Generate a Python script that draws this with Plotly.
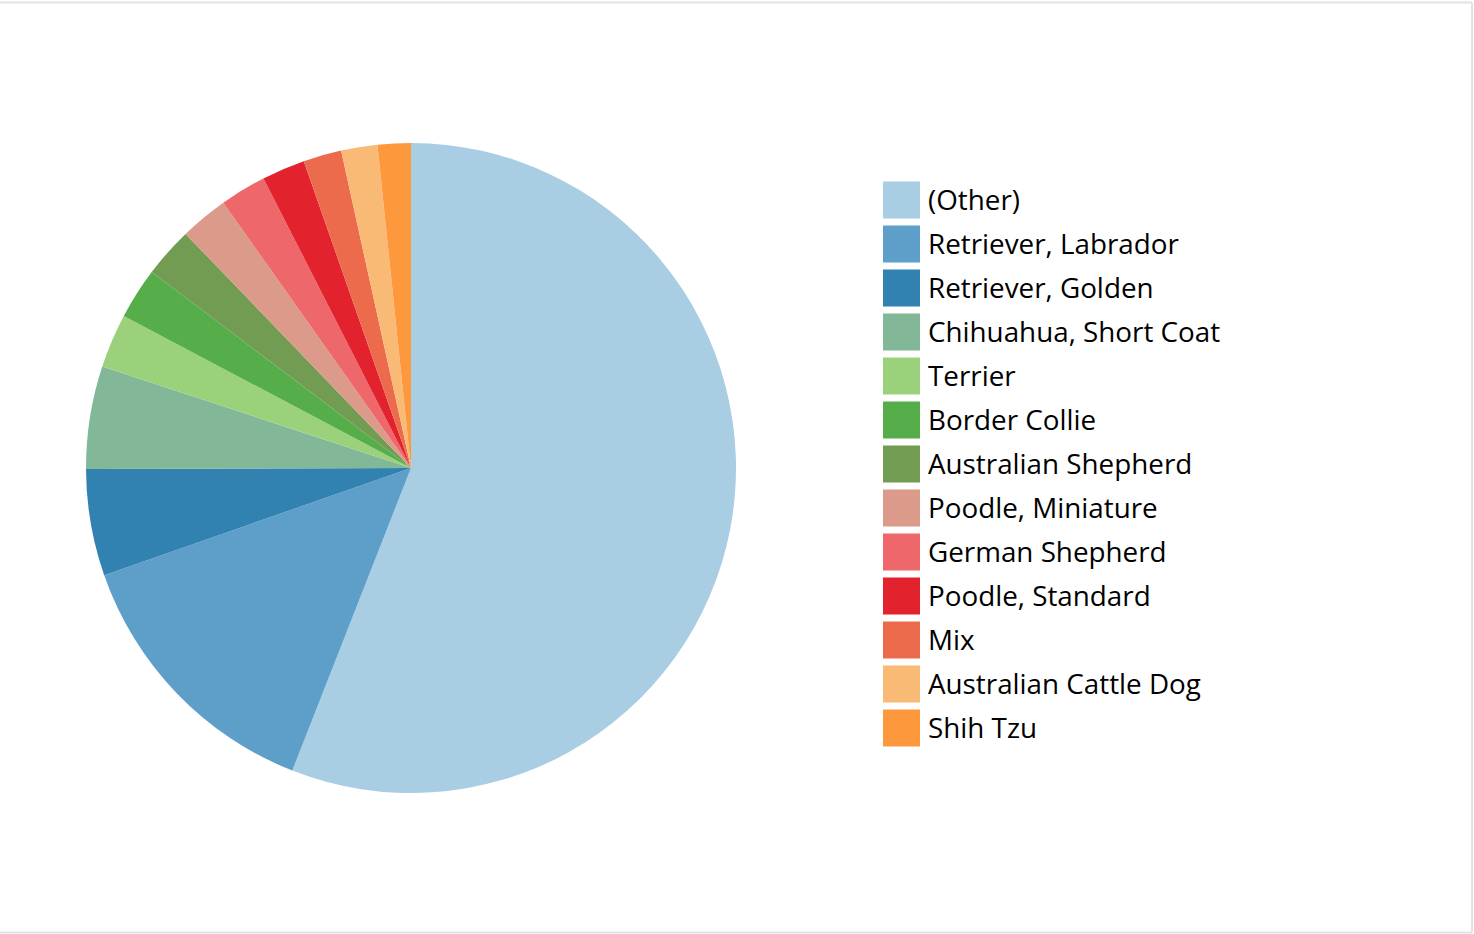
import plotly.graph_objects as go

W, H = 1474, 934

breeds = ["(Other)", "Retriever, Labrador", "Retriever, Golden", "Chihuahua, Short Coat",
          "Terrier", "Border Collie", "Australian Shepherd", "Poodle, Miniature",
          "German Shepherd", "Poodle, Standard", "Mix", "Australian Cattle Dog", "Shih Tzu"]
counts = [1119, 274, 106, 102, 54, 51, 50, 48, 46, 43, 38, 36, 33]
colors = ["#a9cde3", "#5e9fc9", "#3182b0", "#82b898", "#9cd17b", "#56ae4a", "#729c51",
          "#dc9a8a", "#ee676a", "#e2232d", "#ed6b4d", "#f9ba75", "#fe983d"]

fig = go.Figure()
fig.add_trace(go.Pie(
    labels=breeds, values=counts, sort=False, direction="clockwise", rotation=0,
    marker=dict(colors=colors, line=dict(width=0)),
    textinfo="none", showlegend=False,
    domain=dict(x=[86 / W, 736 / W], y=[1 - 793 / H, 1 - 143 / H]),
))

# custom legend (large swatches)
shapes = []
annotations = []
for i, (lab, col) in enumerate(zip(breeds, colors)):
    cy = 200 + 44 * i
    shapes.append(dict(type="rect", xref="paper", yref="paper",
                       x0=883 / W, x1=920 / W, y0=1 - (cy + 18.5) / H, y1=1 - (cy - 18.5) / H,
                       fillcolor=col, line=dict(width=0)))
    annotations.append(dict(xref="paper", yref="paper", x=926 / W, y=1 - (cy - 1) / H,
                            xanchor="left", yanchor="middle", text=lab, showarrow=False,
                            font=dict(family="Open Sans", size=27.8, color="#000000")))

# frame lines
fr = dict(color="#e2e2e2", width=2)
shapes += [
    dict(type="line", xref="paper", yref="paper", x0=0, x1=1472 / W, y0=1 - 2.5 / H, y1=1 - 2.5 / H, line=fr),
    dict(type="line", xref="paper", yref="paper", x0=0, x1=1472 / W, y0=1 - 932.5 / H, y1=1 - 932.5 / H, line=fr),
    dict(type="line", xref="paper", yref="paper", x0=1472 / W, x1=1472 / W, y0=1 - 2.5 / H, y1=1 - 932.5 / H, line=fr),
]

fig.update_layout(
    width=W, height=H, margin=dict(l=0, r=0, t=0, b=0),
    paper_bgcolor="white", plot_bgcolor="white",
    shapes=shapes, annotations=annotations,
    font=dict(family="Open Sans"),
)

fig.write_html("out.html", config={"displayModeBar": False},
               post_script="document.body.style.margin='0';document.body.style.overflow='hidden';")
